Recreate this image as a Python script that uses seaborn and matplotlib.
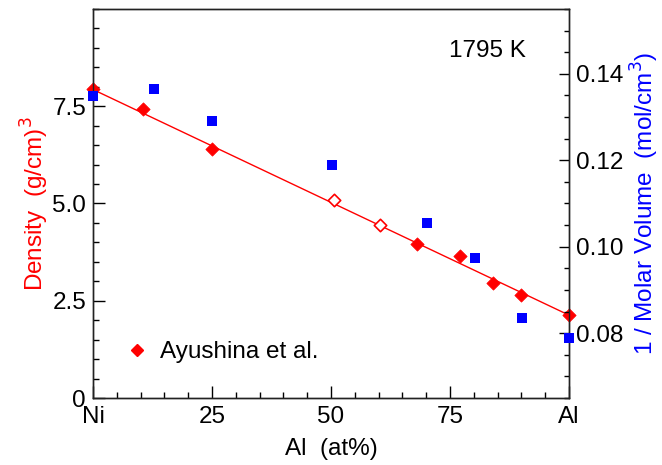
import matplotlib
matplotlib.use("Agg")
import matplotlib.pyplot as plt
from matplotlib.ticker import MultipleLocator, FixedLocator
from matplotlib.lines import Line2D
import seaborn as sns
import pandas as pd

# Density (left axis), Ayushina et al.
dens_x_filled = [0, 10.6, 25.1, 68.1, 77.0, 84.0, 89.9, 100]
dens_y_filled = [7.95, 7.42, 6.40, 3.95, 3.66, 2.95, 2.64, 2.13]
dens_x_open = [50.6, 60.3]
dens_y_open = [5.09, 4.46]
# linear fit line endpoints
fit_x = [0, 100]
fit_y = [7.93, 2.13]
# 1 / molar volume (right axis)
mv_x = [0, 12.8, 25.1, 50.2, 70.2, 80.3, 90.2, 100]
mv_y = [0.1349, 0.1365, 0.1291, 0.1189, 0.1056, 0.0975, 0.0835, 0.0789]

x_ticks = [0, 25, 50, 75, 100]
x_ticklabels = ["Ni", "25", "50", "75", "Al"]
left_ticks = [0, 2.5, 5.0, 7.5]
left_ticklabels = ["0", "2.5", "5.0", "7.5"]
right_ticks = [0.08, 0.10, 0.12, 0.14]
right_ticklabels = ["0.08", "0.10", "0.12", "0.14"]

sns.set_style("ticks")
plt.rcParams["font.family"] = ["Liberation Sans", "DejaVu Sans"]
plt.rcParams["text.color"] = "black"
plt.rcParams["axes.labelcolor"] = "black"
plt.rcParams["xtick.color"] = "black"
plt.rcParams["ytick.color"] = "black"
FS = 17.5
RED = "#ff0000"
BLUE = "#0000ff"

fig = plt.figure(figsize=(6.62, 4.65), dpi=100)
ax = fig.add_axes([93 / 662, 1 - 398 / 465, 476 / 662, 389 / 465])

sns.lineplot(x=fit_x, y=fit_y, ax=ax, color=RED, linewidth=1.0, zorder=2)
sns.scatterplot(x=dens_x_filled, y=dens_y_filled, ax=ax, marker="D", s=46,
                color=RED, edgecolor=RED, linewidth=0.5, zorder=3, clip_on=False)
sns.scatterplot(x=dens_x_open, y=dens_y_open, ax=ax, marker="D", s=40,
                facecolor="white", edgecolor=RED, linewidth=1.2, zorder=3)

ax.set_xlim(0, 100)
ax.set_ylim(0, 10)
ax.xaxis.set_major_locator(FixedLocator(x_ticks))
ax.set_xticklabels(x_ticklabels)
ax.xaxis.set_minor_locator(MultipleLocator(5))
ax.yaxis.set_major_locator(FixedLocator(left_ticks))
ax.set_yticklabels(left_ticklabels)
ax.yaxis.set_minor_locator(MultipleLocator(0.5))
ax.tick_params(axis="both", which="major", direction="in", length=8.6, width=1.0,
               labelsize=FS, colors="black")
ax.tick_params(axis="both", which="minor", direction="in", length=4.3, width=1.0)
ax.tick_params(axis="x", pad=6)
ax.tick_params(axis="y", pad=5)
ax.set_xlabel("Al  (at%)", fontsize=FS, labelpad=7)
ax.set_ylabel("Density  (g/cm)$^3$", fontsize=FS, color=RED, labelpad=1)

ax2 = ax.twinx()
sns.scatterplot(x=mv_x, y=mv_y, ax=ax2, marker="s", s=52, color=BLUE,
                edgecolor=BLUE, linewidth=0, zorder=4, clip_on=False)
ax2.set_ylim(0.065, 0.155)
ax2.yaxis.set_major_locator(FixedLocator(right_ticks))
ax2.set_yticklabels(right_ticklabels)
ax2.yaxis.set_minor_locator(MultipleLocator(0.005))
ax2.tick_params(axis="y", which="major", direction="in", length=7, width=1.0,
                labelsize=FS, pad=5, colors="black")
ax2.tick_params(axis="y", which="minor", direction="in", length=3.6, width=1.0)
ax2.set_ylabel("1 / Molar Volume  (mol/cm$^3$)", fontsize=FS, color=BLUE, labelpad=4)

for a in (ax, ax2):
    for sp in a.spines.values():
        sp.set_color("#222222")
        sp.set_linewidth(1.0)

ax.text(0.748, 0.877, "1795 K", transform=ax.transAxes, fontsize=FS,
        ha="left", va="baseline", color="black")

handle = Line2D([], [], marker="D", linestyle="none", color=RED, markersize=6.5)
ax2.legend(handles=[handle], labels=["Ayushina et al."], loc="center left",
           bbox_to_anchor=(0.055, 0.118), frameon=False, fontsize=FS,
           handlelength=0.7, handletextpad=0.6, borderaxespad=0,
           labelcolor="black")

fig.savefig("out.png", dpi=100)
